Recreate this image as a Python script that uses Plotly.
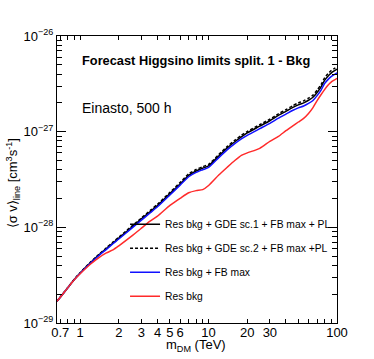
import plotly.graph_objects as go
import numpy as np

# dark matter mass (TeV)
m_dm = [0.66, 0.7, 0.8, 0.9, 1, 1.2, 1.4, 1.6, 1.8, 2, 2.5, 3, 3.5, 4, 5, 6, 7, 8, 9, 10,
        12, 14, 16, 18, 20, 25, 30, 35, 40, 45, 50, 55, 60, 65, 70, 75, 80, 85, 90, 95, 100]

# <sigma v> limits (cm^3 s^-1)
sv_gde1 = [1.69e-29, 1.86e-29, 2.33e-29, 2.85e-29, 3.33e-29, 4.25e-29, 5.15e-29, 6.01e-29, 6.86e-29, 7.70e-29,
           9.94e-29, 1.224e-28, 1.455e-28, 1.689e-28, 2.25e-28, 2.84e-28, 3.49e-28, 3.88e-28, 4.15e-28, 4.40e-28,
           5.57e-28, 6.77e-28, 7.84e-28, 8.82e-28, 9.71e-28, 1.141e-27, 1.301e-27, 1.478e-27, 1.631e-27, 1.782e-27,
           1.905e-27, 1.998e-27, 2.13e-27, 2.29e-27, 2.57e-27, 2.92e-27, 3.44e-27, 3.80e-27, 4.09e-27, 4.31e-27, 4.50e-27]
sv_gde2 = [1.69e-29, 1.87e-29, 2.35e-29, 2.87e-29, 3.36e-29, 4.31e-29, 5.22e-29, 6.10e-29, 7.00e-29, 7.89e-29,
           1.019e-28, 1.253e-28, 1.498e-28, 1.742e-28, 2.32e-28, 2.94e-28, 3.62e-28, 4.02e-28, 4.30e-28, 4.55e-28,
           5.77e-28, 7.01e-28, 8.14e-28, 9.16e-28, 1.003e-27, 1.181e-27, 1.350e-27, 1.536e-27, 1.699e-27, 1.862e-27,
           1.995e-27, 2.10e-27, 2.24e-27, 2.41e-27, 2.72e-27, 3.09e-27, 3.65e-27, 4.03e-27, 4.34e-27, 4.56e-27, 4.77e-27]
sv_fb = [1.69e-29, 1.86e-29, 2.33e-29, 2.84e-29, 3.31e-29, 4.21e-29, 5.07e-29, 5.89e-29, 6.73e-29, 7.55e-29,
         9.70e-29, 1.188e-28, 1.413e-28, 1.640e-28, 2.18e-28, 2.76e-28, 3.38e-28, 3.75e-28, 4.00e-28, 4.23e-28,
         5.35e-28, 6.49e-28, 7.50e-28, 8.40e-28, 9.16e-28, 1.074e-27, 1.222e-27, 1.384e-27, 1.524e-27, 1.663e-27,
         1.774e-27, 1.857e-27, 1.972e-27, 2.12e-27, 2.38e-27, 2.70e-27, 3.18e-27, 3.50e-27, 3.76e-27, 3.95e-27, 4.12e-27]
sv_res = [1.69e-29, 1.86e-29, 2.33e-29, 2.83e-29, 3.27e-29, 4.11e-29, 4.83e-29, 5.40e-29, 5.81e-29, 6.41e-29,
          8.04e-29, 9.80e-29, 1.162e-28, 1.308e-28, 1.697e-28, 2.01e-28, 2.30e-28, 2.42e-28, 2.48e-28, 2.74e-28,
          3.52e-28, 4.26e-28, 5.00e-28, 5.66e-28, 6.00e-28, 6.70e-28, 7.93e-28, 8.93e-28, 1.023e-27, 1.143e-27,
          1.262e-27, 1.377e-27, 1.549e-27, 1.786e-27, 2.11e-27, 2.43e-27, 2.75e-27, 3.06e-27, 3.30e-27, 3.46e-27, 3.61e-27]

names = ["Res bkg + GDE sc.1 + FB max + PL", "Res bkg + GDE sc.2 + FB max +PL", "Res bkg + FB max", "Res bkg"]

x_labels = [0.7, 1, 2, 3, 4, 5, 6, 10, 20, 30, 100]
x_minor = [0.7, 0.8, 0.9, 2, 3, 4, 5, 6, 7, 8, 9, 20, 30, 40, 50, 60, 70, 80, 90]
y_major = [1e-29, 1e-28, 1e-27, 1e-26]
y_major_text = ["10<sup>\u221229</sup>", "10<sup>\u221228</sup>", "10<sup>\u221227</sup>", "10<sup>\u221226</sup>"]
y_minor = [k * 10.0 ** e for e in (-29, -28, -27) for k in range(2, 10)]

FONT = "Liberation Sans, Arial, sans-serif"

fig = go.Figure()
styles = [dict(color="black", width=1.5),
          dict(color="black", width=1.5, dash="3px,2px"),
          dict(color="#1010ff", width=1.5),
          dict(color="#ff2a2a", width=1.5)]
for i, (sv, st) in enumerate(zip([sv_gde1, sv_gde2, sv_fb, sv_res], styles)):
    fig.add_trace(go.Scatter(x=m_dm, y=sv, mode="lines", line=dict(shape="spline", smoothing=0.6, **st),
                             name=names[i], legendgroup=str(i)))

axis_common = dict(showline=True, linecolor="black", linewidth=1, mirror="allticks", automargin=False,
                   ticks="inside", tickcolor="black", showgrid=False, zeroline=False)

fig.update_layout(
    width=374, height=359,
    margin=dict(l=57, r=37, t=36, b=36),
    paper_bgcolor="white", plot_bgcolor="white",
    font=dict(family=FONT, color="black", size=13),
    showlegend=True,
    legend=dict(x=0.243, y=0.395, xanchor="left", yanchor="top", bgcolor="rgba(0,0,0,0)",
                font=dict(size=10.3), tracegroupgap=5, itemwidth=30, traceorder="grouped"),
    xaxis=dict(type="log", range=[np.log10(0.66), 2], tickvals=x_labels,
               ticktext=[str(v) for v in x_labels], ticklen=4, ticklabelstandoff=-3,
               minor=dict(tickvals=x_minor, ticklen=4, ticks="inside", tickcolor="black"),
               **axis_common),
    xaxis2=dict(type="log", range=[np.log10(0.66), 2], overlaying="x", matches="x", automargin=False,
                tickvals=[1, 10, 100], ticklen=9, showticklabels=False,
                showline=False, ticks="inside", tickcolor="black", mirror="allticks",
                showgrid=False, zeroline=False),
    yaxis=dict(type="log", range=[-29, -26], tickvals=y_major, ticktext=y_major_text, ticklen=9,
               minor=dict(tickvals=y_minor, ticklen=5, ticks="inside", tickcolor="black"),
               **axis_common),
)

# axis titles
fig.add_annotation(x=0.495, y=-0.078, xref="paper", yref="paper", xanchor="center", yanchor="middle",
                   text="m<sub>DM</sub> (TeV)", showarrow=False, font=dict(size=13))
fig.add_annotation(x=-0.157, y=0.487, xref="paper", yref="paper", xanchor="center", yanchor="middle",
                   textangle=-90, showarrow=False, font=dict(size=13),
                   text="\u27e8\u03c3 v\u27e9<sub>line</sub> [cm<sup>3</sup>s<sup>-1</sup>]")

fig.add_annotation(x=0.082, y=0.913, xref="paper", yref="paper", xanchor="left", yanchor="middle",
                   text="<b>Forecast Higgsino limits split. 1 - Bkg</b>", showarrow=False,
                   font=dict(size=12.8))
fig.add_annotation(x=0.082, y=0.749, xref="paper", yref="paper", xanchor="left", yanchor="middle",
                   text="Einasto, 500 h", showarrow=False, font=dict(size=14))

# drop the default page margin so the figure sits at the window corner
fig.write_html("out.html", config={"displayModeBar": False},
               post_script="document.body.style.margin='0px';")
